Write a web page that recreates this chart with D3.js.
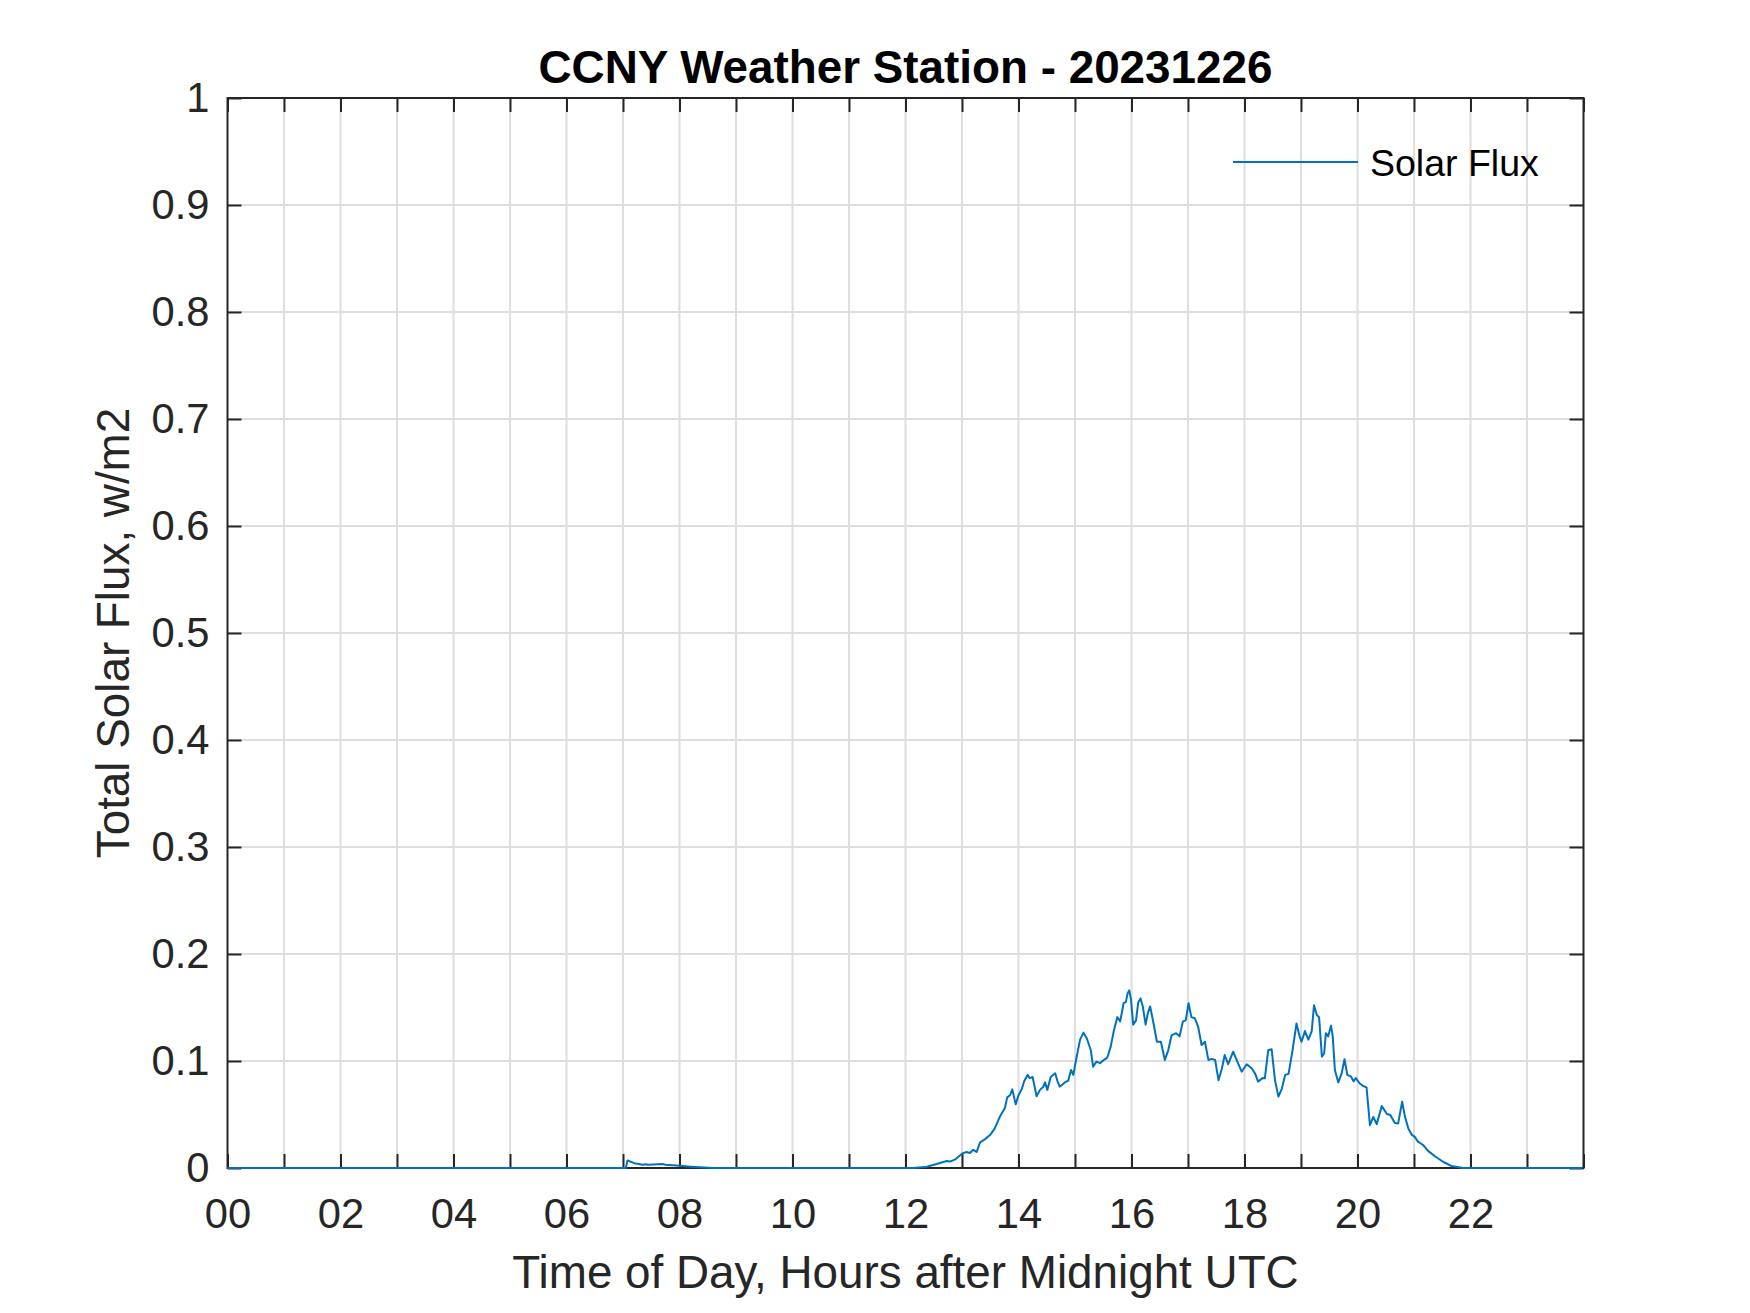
<!DOCTYPE html>
<html>
<head>
<meta charset="utf-8">
<script src="https://cdn.jsdelivr.net/npm/d3@7"></script>
<style>
  body { margin: 0; background: #fff; }
  text { font-family: "Liberation Sans", Arial, Helvetica, sans-serif; }
</style>
</head>
<body>
<script>
// time of day (hours UTC) and total solar flux
var hours = [
  0, 7.05, 7.08, 7.2, 7.35, 7.4, 7.45, 7.7, 7.75, 8.0, 8.2, 8.6,
  12.0, 12.14, 12.38, 12.55, 12.73, 12.79, 12.88, 13.01, 13.08, 13.14, 13.2, 13.26,
  13.32, 13.41, 13.5, 13.58, 13.67, 13.76, 13.8, 13.85, 13.89, 13.95, 14.0, 14.06,
  14.1, 14.16, 14.2, 14.25, 14.32, 14.38, 14.44, 14.47, 14.51, 14.57, 14.65, 14.69,
  14.73, 14.82, 14.88, 14.93, 14.97, 15.03, 15.09, 15.15, 15.21, 15.28, 15.32, 15.38,
  15.44, 15.51, 15.57, 15.63, 15.69, 15.75, 15.8, 15.86, 15.9, 15.93, 15.96, 15.99,
  16.03, 16.08, 16.12, 16.16, 16.2, 16.25, 16.29, 16.33, 16.39, 16.45, 16.52, 16.59,
  16.65, 16.71, 16.79, 16.85, 16.91, 16.96, 17.01, 17.06, 17.12, 17.18, 17.24, 17.3,
  17.36, 17.42, 17.48, 17.54, 17.6, 17.65, 17.71, 17.8, 17.86, 17.95, 18.04, 18.13,
  18.19, 18.24, 18.32, 18.36, 18.42, 18.48, 18.54, 18.6, 18.66, 18.72, 18.78, 18.85,
  18.92, 18.97, 19.01, 19.07, 19.13, 19.19, 19.23, 19.28, 19.32, 19.37, 19.41, 19.44,
  19.48, 19.53, 19.56, 19.6, 19.66, 19.72, 19.77, 19.82, 19.88, 19.93, 19.97, 20.04,
  20.1, 20.16, 20.22, 20.28, 20.34, 20.43, 20.52, 20.58, 20.66, 20.72, 20.79, 20.84,
  20.9, 20.96, 21.01, 21.07, 21.16, 21.25, 21.37, 21.52, 21.66, 21.87, 23.98
];
var flux = [
  0, 0, 0.007, 0.0045, 0.003, 0.0035, 0.003, 0.0037, 0.003, 0.002, 0.0012, 0,
  0, 0, 0.0012, 0.0037, 0.0065, 0.006, 0.008, 0.0137, 0.015, 0.014, 0.017, 0.015,
  0.024, 0.027, 0.031, 0.037, 0.048, 0.056, 0.066, 0.068, 0.0735, 0.0595, 0.068, 0.074,
  0.081, 0.087, 0.084, 0.085, 0.067, 0.073, 0.076, 0.08, 0.073, 0.085, 0.0885, 0.081,
  0.076, 0.08, 0.0816, 0.0916, 0.087, 0.104, 0.12, 0.1265, 0.121, 0.11, 0.0947, 0.0994,
  0.098, 0.101, 0.103, 0.113, 0.129, 0.141, 0.137, 0.154, 0.155, 0.163, 0.166, 0.158,
  0.134, 0.138, 0.155, 0.1585, 0.151, 0.134, 0.145, 0.151, 0.135, 0.118, 0.118, 0.101,
  0.11, 0.124, 0.126, 0.123, 0.137, 0.138, 0.154, 0.141, 0.14, 0.132, 0.115, 0.118,
  0.101, 0.102, 0.101, 0.082, 0.093, 0.1056, 0.097, 0.1087, 0.101, 0.09, 0.097, 0.093,
  0.088, 0.0807, 0.084, 0.0838, 0.11, 0.111, 0.082, 0.0667, 0.074, 0.087, 0.088, 0.11,
  0.135, 0.124, 0.118, 0.128, 0.12, 0.128, 0.152, 0.143, 0.141, 0.104, 0.107, 0.126,
  0.123, 0.133, 0.124, 0.0916, 0.08, 0.0885, 0.1016, 0.087, 0.0857, 0.081, 0.084, 0.079,
  0.0766, 0.0754, 0.04, 0.0477, 0.041, 0.058, 0.0505, 0.0495, 0.042, 0.0417, 0.062, 0.048,
  0.037, 0.031, 0.0293, 0.0246, 0.0215, 0.016, 0.011, 0.0056, 0.0019, 0, 0
];

var xTicks = d3.range(0, 25);
var xTickLabels = ["00", "02", "04", "06", "08", "10", "12", "14", "16", "18", "20", "22"];
var yTicks = [0, 0.1, 0.2, 0.3, 0.4, 0.5, 0.6, 0.7, 0.8, 0.9, 1];
var yTickLabels = ["0", "0.1", "0.2", "0.3", "0.4", "0.5", "0.6", "0.7", "0.8", "0.9", "1"];

const w = 1750;
const h = 1313;
const plotLeft = 227.5, plotRight = 1583.5, plotTop = 98, plotBottom = 1168;
const axisColor = "#262626";
const lineColor = "#0072BD";

const xScale = d3.scaleLinear().domain([0, 24]).range([plotLeft, plotRight]);
const yScale = d3.scaleLinear().domain([0, 1]).range([plotBottom, plotTop]);

const svg = d3.select("body")
    .append("svg")
    .attr("width", w)
    .attr("height", h);

svg.append("rect")
    .attr("width", w).attr("height", h)
    .attr("fill", "#fff");

// grid lines
svg.append("g")
    .selectAll("line")
    .data(xTicks.slice(1, -1))
    .enter()
    .append("line")
    .attr("x1", d => xScale(d)).attr("x2", d => xScale(d))
    .attr("y1", plotTop).attr("y2", plotBottom)
    .attr("stroke", "#dedede")
    .attr("stroke-width", 2);

svg.append("g")
    .selectAll("line")
    .data(yTicks.slice(1, -1))
    .enter()
    .append("line")
    .attr("x1", plotLeft).attr("x2", plotRight)
    .attr("y1", d => yScale(d)).attr("y2", d => yScale(d))
    .attr("stroke", "#dedede")
    .attr("stroke-width", 2);

// axes (ticks pointing inward on all four sides)
function xLabel(d) {
    var i = xTickLabels.indexOf(String(d).padStart(2, "0"));
    return i >= 0 ? xTickLabels[i] : "";
}
function yLabel(d) {
    return yTickLabels[yTicks.indexOf(d)];
}

const xAxis = d3.axisBottom(xScale).tickValues(xTicks).tickSizeInner(-14).tickSizeOuter(0)
    .tickPadding(30).tickFormat(xLabel);
const xAxisTop = d3.axisTop(xScale).tickValues(xTicks).tickSizeInner(-14).tickSizeOuter(0)
    .tickFormat("");
const yAxis = d3.axisLeft(yScale).tickValues(yTicks).tickSizeInner(-14).tickSizeOuter(0)
    .tickPadding(18).tickFormat(yLabel);
const yAxisRight = d3.axisRight(yScale).tickValues(yTicks).tickSizeInner(-14).tickSizeOuter(0)
    .tickFormat("");

function styleAxis(g) {
    g.select(".domain").remove();
    g.selectAll("line").attr("stroke", axisColor).attr("stroke-width", 2);
    g.selectAll("text")
        .attr("fill", axisColor)
        .style("font-size", "41.7px")
        .style("font-family", "'Liberation Sans', Arial, sans-serif");
}

svg.append("g").attr("transform", "translate(0," + plotBottom + ")").call(xAxis).call(styleAxis);
svg.append("g").attr("transform", "translate(0," + plotTop + ")").call(xAxisTop).call(styleAxis);
svg.append("g").attr("transform", "translate(" + plotLeft + ",0)").call(yAxis).call(styleAxis);
svg.append("g").attr("transform", "translate(" + plotRight + ",0)").call(yAxisRight).call(styleAxis);

svg.append("rect")
    .attr("x", plotLeft).attr("y", plotTop)
    .attr("width", plotRight - plotLeft).attr("height", plotBottom - plotTop)
    .attr("fill", "none")
    .attr("stroke", axisColor)
    .attr("stroke-width", 2);

// data line
const line = d3.line()
    .x((d, i) => xScale(hours[i]))
    .y(d => yScale(d));

svg.append("path")
    .datum(flux)
    .attr("d", line)
    .attr("fill", "none")
    .attr("stroke", lineColor)
    .attr("stroke-width", 2)
    .attr("stroke-linejoin", "round");

// title and axis labels
svg.append("text")
    .attr("x", (plotLeft + plotRight) / 2)
    .attr("y", 83)
    .attr("text-anchor", "middle")
    .style("font-size", "45.8px")
    .style("font-weight", "bold")
    .attr("fill", "#000")
    .text("CCNY Weather Station - 20231226");

svg.append("text")
    .attr("x", (plotLeft + plotRight) / 2)
    .attr("y", 1288)
    .attr("text-anchor", "middle")
    .style("font-size", "45.8px")
    .attr("fill", axisColor)
    .text("Time of Day, Hours after Midnight UTC");

svg.append("text")
    .attr("transform", "translate(129," + ((plotTop + plotBottom) / 2) + ") rotate(-90)")
    .attr("text-anchor", "middle")
    .style("font-size", "45.8px")
    .attr("fill", axisColor)
    .text("Total Solar Flux, w/m2");

// legend (no box)
svg.append("line")
    .attr("x1", 1233).attr("x2", 1358)
    .attr("y1", 162).attr("y2", 162)
    .attr("stroke", lineColor)
    .attr("stroke-width", 2);

svg.append("text")
    .attr("x", 1370)
    .attr("y", 176)
    .style("font-size", "37.5px")
    .attr("fill", "#000")
    .text("Solar Flux");
</script>
</body>
</html>
